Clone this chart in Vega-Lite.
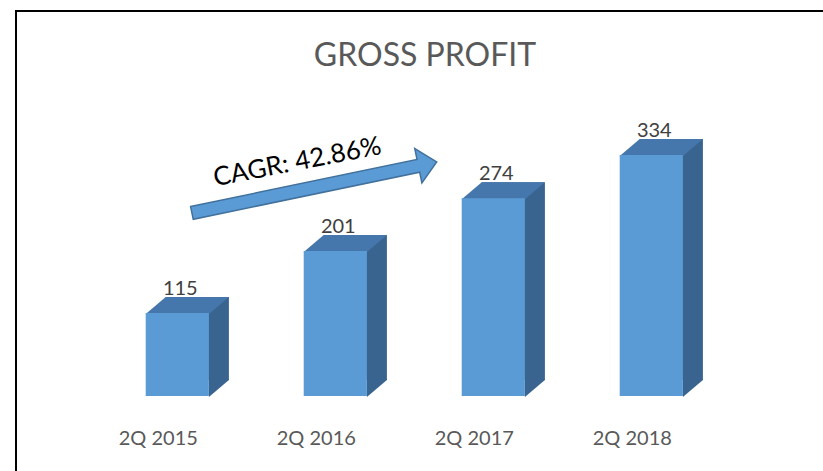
{
  "$schema": "https://vega.github.io/schema/vega-lite/v6.json",
  "autosize": "none",
  "padding": {"left": 16, "top": 11, "right": 0, "bottom": 0},
  "width": 830,
  "height": 470,
  "background": "white",
  "config": {"view": {"stroke": "#000000", "strokeWidth": 2}, "font": "Lato"},
  "title": {"text": "GROSS PROFIT", "font": "Lato", "fontSize": 32, "fontWeight": "normal", "color": "#595959", "anchor": "middle", "frame": "group", "offset": 0, "dy": 87, "dx": -6, "baseline": "alphabetic"},
  "data": {"values": [
    {"period": "2Q 2015", "profit": 115},
    {"period": "2Q 2016", "profit": 201},
    {"period": "2Q 2017", "profit": 274},
    {"period": "2Q 2018", "profit": 334}
  ]},
  "encoding": {
    "x": {"field": "period", "type": "nominal", "sort": null,
      "scale": {"domain": ["2Q 2015", "2Q 2016", "2Q 2017", "2Q 2018"], "paddingInner": 0.6, "paddingOuter": 0.9266, "align": 0.443},
      "axis": {"orient": "bottom", "offset": -43, "domain": false, "ticks": false, "labelPadding": 0, "labelBaseline": "middle", "labelFont": "Lato", "labelFontSize": 20, "labelColor": "#595959", "labelOffset": -19, "labelAngle": 0, "title": null, "grid": false}},
    "y": {"field": "profit", "type": "quantitative", "scale": {"domain": [-117.8, 533.5], "nice": false, "zero": false}, "axis": null}
  },
  "layer": [
    {"mark": {"type": "bar", "color": "#3A6490", "xOffset": 20, "x2Offset": 20, "yOffset": -16, "y2Offset": -16},
     "encoding": {"y2": {"datum": 0}}},
    {"mark": {"type": "point", "shape": "M0.632,0.02L0.632,-0.34L1.032,-0.34L1.032,-0.32Z", "size": 10000, "filled": true, "fill": "#3A6490", "strokeWidth": 0, "opacity": 1},
     "encoding": {"y": {"datum": 0}}},
    {"mark": {"type": "point", "shape": "M-0.632,0.02L0.632,0.02L1.032,-0.32L-0.232,-0.32Z", "size": 10000, "filled": true, "fill": "#4677AC", "strokeWidth": 0, "opacity": 1}},
    {"mark": {"type": "bar", "color": "#5B9BD5"},
     "encoding": {"y2": {"datum": 0}}},
    {"mark": {"type": "text", "dy": -18, "dx": 3, "baseline": "alphabetic", "align": "center", "font": "Lato", "fontSize": 20, "color": "#404040"},
     "encoding": {"text": {"field": "profit", "type": "quantitative"}}},
    {"data": {"values": [{"period": "2Q 2016", "level": 289}]},
     "mark": {"type": "point", "shape": "M-1,-0.052L0.85,-0.052L0.85,-0.14L1,0L0.85,0.14L0.85,0.052L-1,0.052Z", "size": 62500, "angle": 348.24, "filled": true, "fill": "#5B9BD5", "stroke": "#41719C", "strokeWidth": 1.5, "opacity": 1, "xOffset": -21},
     "encoding": {"y": {"field": "level", "type": "quantitative"}}},
    {"data": {"values": [{"period": "2Q 2016", "level": 324, "label": "CAGR: 42.86%"}]},
     "mark": {"type": "text", "angle": 349, "align": "center", "baseline": "middle", "font": "Lato", "fontSize": 26, "color": "#000000", "xOffset": -38},
     "encoding": {"y": {"field": "level", "type": "quantitative"}, "text": {"field": "label", "type": "nominal"}}}
  ]
}
